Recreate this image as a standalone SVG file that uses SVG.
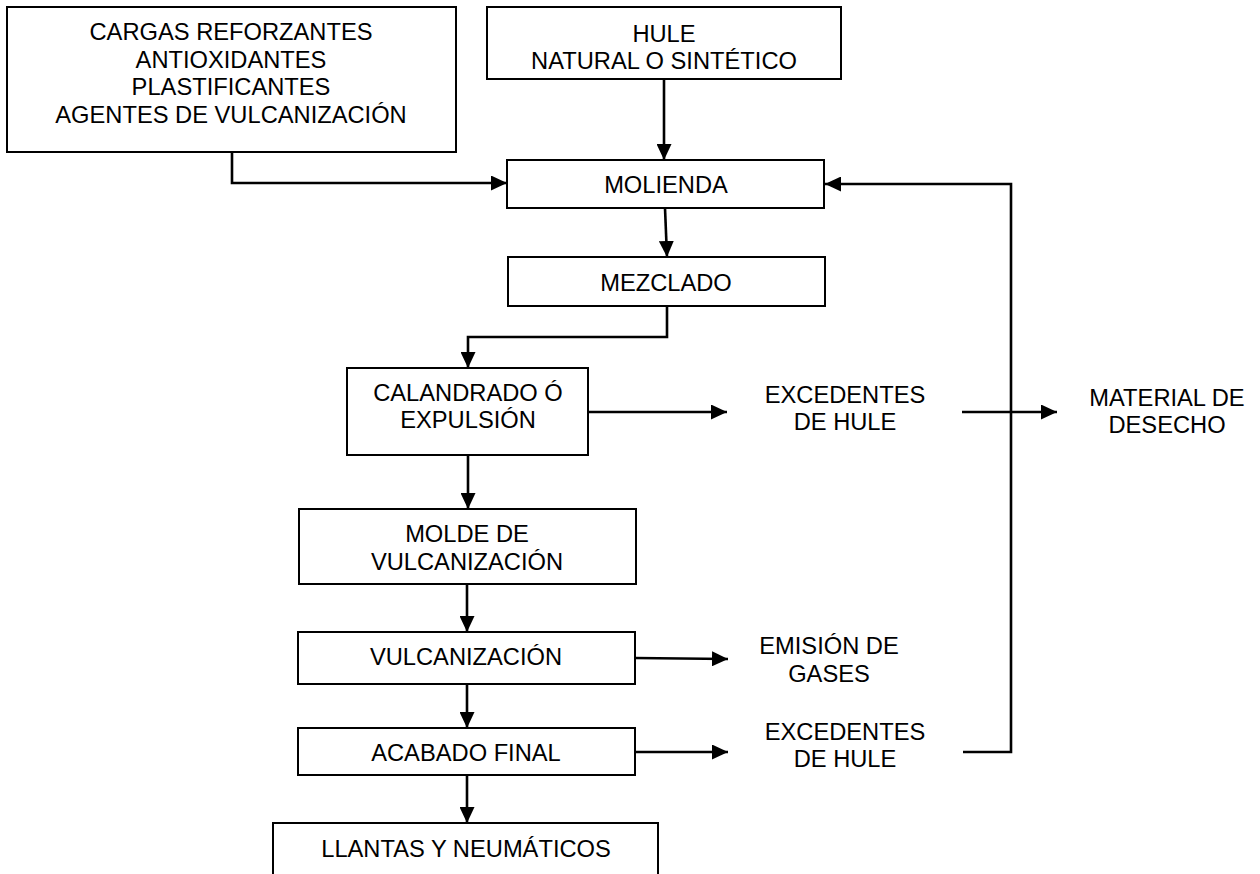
<svg xmlns="http://www.w3.org/2000/svg" width="1260" height="874" viewBox="0 0 1260 874">
<style>
.box{fill:#fff;stroke:#000;stroke-width:2}
.t{font-family:"Liberation Sans",Arial,sans-serif;font-size:23.7px;fill:#000;text-anchor:middle}
.c{fill:none;stroke:#000;stroke-width:2.6;marker-end:url(#ah)}
</style>
<defs>
<marker id="ah" markerUnits="userSpaceOnUse" markerWidth="16" markerHeight="15" refX="16" refY="7.5" orient="auto" viewBox="0 0 16 15">
<path d="M0,0 L16,7.5 L0,15 z" fill="#000"/>
</marker>
</defs>
<rect width="1260" height="874" fill="#fff"/>
<g id="connectors">
<path class="c" d="M664,79 L664,160"/>
<path class="c" d="M232,152 L232,183 L507,183"/>
<path class="c" d="M665,208 L667,257"/>
<path class="c" d="M667,306 L667,337 L468,337 L468,368"/>
<path class="c" d="M588,412 L727,412"/>
<path class="c" d="M962,412 L1057,412"/>
<path class="c" d="M468,455 L468,509"/>
<path class="c" d="M467,584 L467,632"/>
<path class="c" d="M467,684 L467,728"/>
<path class="c" d="M467,775 L467,823"/>
<path class="c" d="M635,658 L728,659"/>
<path class="c" d="M635,752 L728,752"/>
<path class="c" d="M963,752 L1011,752 L1011,184 L825,184"/>
</g>
<g id="cargas">
<rect class="box" x="7" y="7" width="449" height="145"/>
<text class="t" x="231" y="40">CARGAS REFORZANTES</text>
<text class="t" x="231" y="68">ANTIOXIDANTES</text>
<text class="t" x="231" y="95">PLASTIFICANTES</text>
<text class="t" x="231" y="123">AGENTES DE VULCANIZACIÓN</text>
</g>
<g id="hule">
<rect class="box" x="487" y="7" width="354" height="72"/>
<text class="t" x="664" y="42">HULE</text>
<text class="t" x="664" y="69">NATURAL O SINTÉTICO</text>
</g>
<g id="molienda">
<rect class="box" x="507" y="160" width="317" height="48"/>
<text class="t" x="666" y="193">MOLIENDA</text>
</g>
<g id="mezclado">
<rect class="box" x="508" y="257" width="317" height="49"/>
<text class="t" x="666" y="291">MEZCLADO</text>
</g>
<g id="calandrado">
<rect class="box" x="347" y="368" width="241" height="87"/>
<text class="t" x="468" y="401">CALANDRADO Ó</text>
<text class="t" x="468" y="428">EXPULSIÓN</text>
</g>
<g id="excedentes1">
<text class="t" x="845" y="403">EXCEDENTES</text>
<text class="t" x="845" y="430">DE HULE</text>
</g>
<g id="material">
<text class="t" x="1167" y="406">MATERIAL DE</text>
<text class="t" x="1167" y="433">DESECHO</text>
</g>
<g id="molde">
<rect class="box" x="299" y="509" width="337" height="75"/>
<text class="t" x="467" y="542">MOLDE DE</text>
<text class="t" x="467" y="570">VULCANIZACIÓN</text>
</g>
<g id="vulcanizacion">
<rect class="box" x="298" y="632" width="337" height="52"/>
<text class="t" x="466" y="665">VULCANIZACIÓN</text>
</g>
<g id="emision">
<text class="t" x="829" y="654">EMISIÓN DE</text>
<text class="t" x="829" y="682">GASES</text>
</g>
<g id="acabado">
<rect class="box" x="298" y="728" width="337" height="47"/>
<text class="t" x="466" y="761">ACABADO FINAL</text>
</g>
<g id="excedentes2">
<text class="t" x="845" y="740">EXCEDENTES</text>
<text class="t" x="845" y="767">DE HULE</text>
</g>
<g id="llantas">
<rect class="box" x="273" y="823" width="385" height="70"/>
<text class="t" x="466" y="857">LLANTAS Y NEUMÁTICOS</text>
</g>
</svg>
